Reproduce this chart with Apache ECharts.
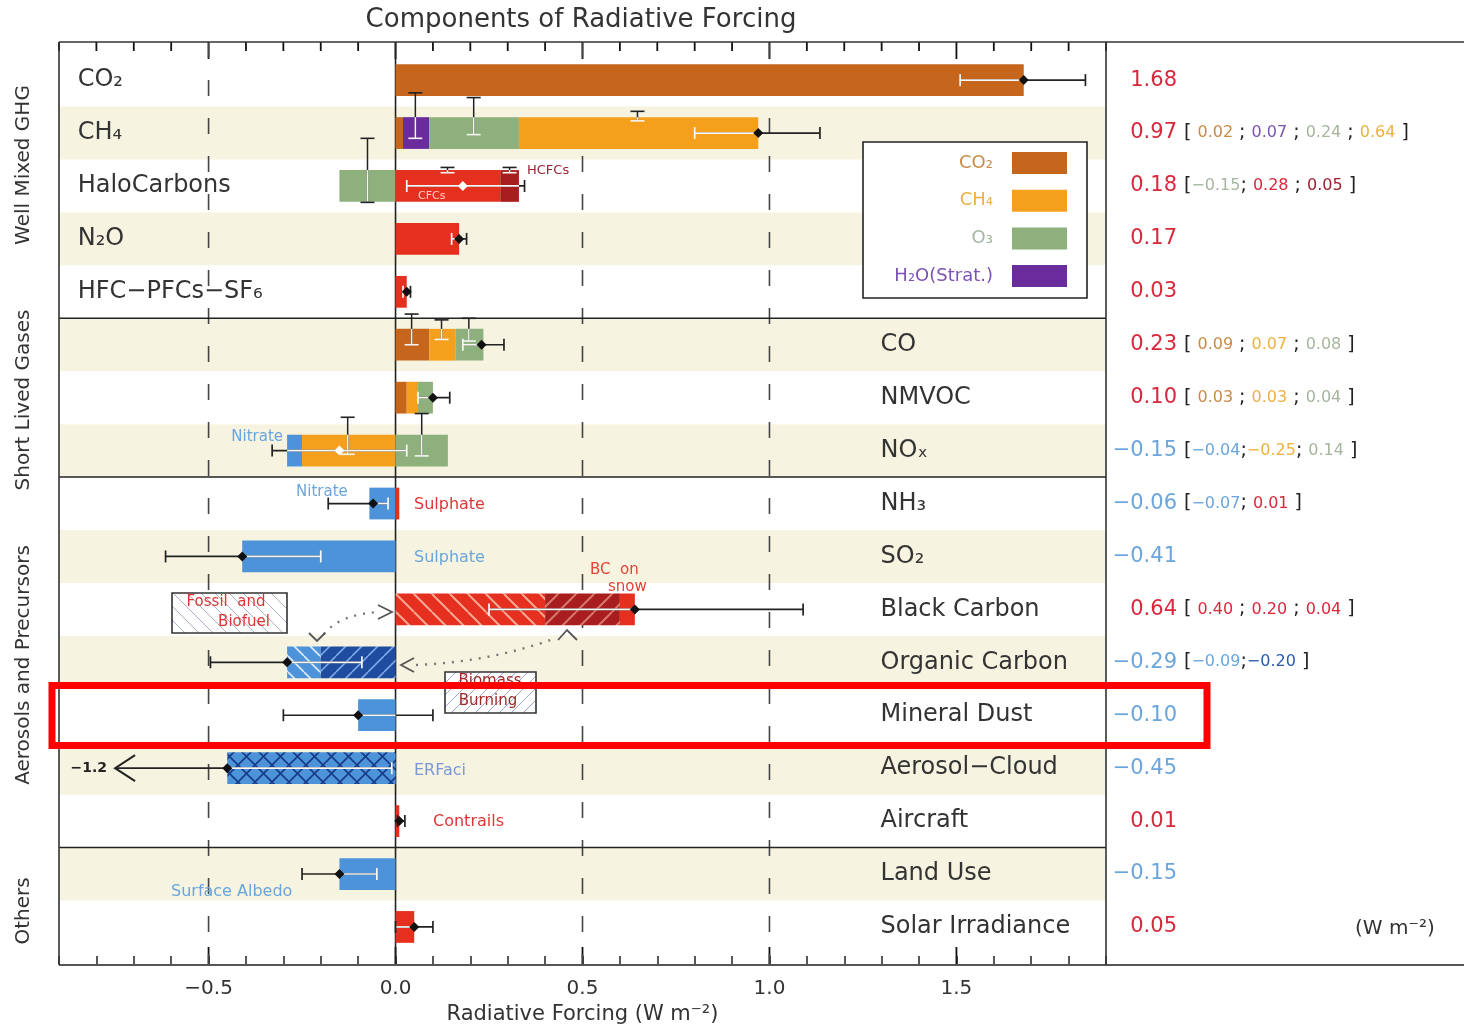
<!DOCTYPE html>
<html>
<head>
<meta charset="utf-8">
<script src="https://cdn.jsdelivr.net/npm/echarts@6/dist/echarts.min.js"></script>
<style>
html, body { margin: 0; padding: 0; background: #fff; }
#chart { width: 1464px; height: 1030px; }
</style>
</head>
<body>
<div id="chart"></div>
<script>
// ---- data ----
const rowNames = ['CO₂', 'CH₄', 'HaloCarbons', 'N₂O', 'HFC−PFCs−SF₆', 'CO', 'NMVOC', 'NOₓ', 'NH₃', 'SO₂',
  'Black Carbon', 'Organic Carbon', 'Mineral Dust', 'Aerosol−Cloud', 'Aircraft', 'Land Use', 'Solar Irradiance'];
const sectionNames = ['Well Mixed GHG', 'Short Lived Gases', 'Aerosols and Precursors', 'Others'];

// net forcing (diamonds) and uncertainty range
const netValues = [1.68, 0.97, 0.18, 0.17, 0.03, 0.23, 0.10, -0.15, -0.06, -0.41, 0.64, -0.29, -0.10, -0.45, 0.01, -0.15, 0.05];
const errLow  = [1.51, 0.80, 0.03, 0.15, 0.02, 0.18, 0.06, -0.33, -0.18, -0.615, 0.25, -0.495, -0.30, -1.2, 0.005, -0.25, 0.0];
const errHigh = [1.845, 1.135, 0.345, 0.19, 0.04, 0.29, 0.145, 0.03, -0.02, -0.20, 1.09, -0.09, 0.10, -0.01, 0.025, -0.05, 0.10];

// bar pieces: [row, from, to, kind]
const segments = [
  [0, 0, 1.68, 'co2'],
  [1, 0, 0.02, 'co2'], [1, 0.02, 0.09, 'h2o'], [1, 0.09, 0.33, 'o3'], [1, 0.33, 0.97, 'ch4'],
  [2, -0.15, 0, 'o3'], [2, 0, 0.28, 'red'], [2, 0.28, 0.33, 'darkred'],
  [3, 0, 0.17, 'red'],
  [4, 0, 0.03, 'red'],
  [5, 0, 0.09, 'co2'], [5, 0.09, 0.16, 'ch4'], [5, 0.16, 0.235, 'o3'],
  [6, 0, 0.03, 'co2'], [6, 0.03, 0.06, 'ch4'], [6, 0.06, 0.10, 'o3'],
  [7, -0.29, -0.25, 'blue'], [7, -0.25, 0, 'ch4'], [7, 0, 0.14, 'o3'],
  [8, -0.07, 0, 'blue'], [8, 0, 0.01, 'red'],
  [9, -0.41, 0, 'blue'],
  [10, 0, 0.40, 'redFossil'], [10, 0.40, 0.60, 'redBiomass'], [10, 0.60, 0.64, 'red'],
  [11, -0.29, -0.20, 'blueFossil'], [11, -0.20, 0, 'blueBiomass'],
  [12, -0.10, 0, 'blue'],
  [13, -0.45, 0, 'blueCloud'],
  [14, 0, 0.01, 'red'],
  [15, -0.15, 0, 'blue'],
  [16, 0, 0.05, 'red']
];

// component uncertainty marks: [row, x, top offset, bottom offset] (offsets in rows)
const compBars = [
  [1, 0.053, -0.76, 0.10], [1, 0.209, -0.67, 0.03], [1, 0.647, -0.41, -0.23],
  [2, -0.075, -0.90, 0.31], [2, 0.139, -0.35, -0.25], [2, 0.305, -0.35, -0.25],
  [5, 0.043, -0.58, 0.0], [5, 0.123, -0.47, -0.10], [5, 0.196, -0.50, -0.07],
  [7, 0.07, -0.70, 0.10], [7, -0.128, -0.63, 0.07]
];

// bracketed component values in the right column
const partValues = [[], [0.02, 0.07, 0.24, 0.64], [-0.15, 0.28, 0.05], [], [], [0.09, 0.07, 0.08], [0.03, 0.03, 0.04],
  [-0.04, -0.25, 0.14], [-0.07, 0.01], [], [0.40, 0.20, 0.04], [-0.09, -0.20], [], [], [], [], []];
const partKinds = [[], ['co2', 'h2o', 'o3', 'ch4'], ['o3', 'red', 'darkred'], [], [], ['co2', 'ch4', 'o3'], ['co2', 'ch4', 'o3'],
  ['blue', 'ch4', 'o3'], ['blue', 'red'], [], ['red', 'red', 'red'], ['blue', 'darkblue'], [], [], [], [], []];

const bandRows = [1, 3, 5, 7, 9, 11, 13, 15];
const sectionBreaks = [4.5, 7.5, 14.5];
const dashedLines = [-0.5, 0.5, 1.0];
const majorTicks = [-0.5, 0, 0.5, 1.0, 1.5];
const legendNames = ['CO₂', 'CH₄', 'O₃', 'H₂O(Strat.)'];
const legendKinds = ['co2', 'ch4', 'o3', 'h2o'];

// ---- look ----
const FONT = '"DejaVu Sans", sans-serif';
const DARK = '#222';
const BEIGE = '#f6f4e0';
const X0 = -0.9, X1 = 1.9, Y0 = -0.72, Y1 = 16.7;
const GL = 59, GT = 42, GW = 1047, GH = 923;
const BAR_HALF = 0.3, CAP = 6, ARROW_X = -0.75;
const LABEL_LEFT = -0.85, LABEL_RIGHT = 1.297;

// every 0.1 across the axis
const tickValues = [];
for (let k = 0; k <= 28; k++) tickValues.push(Math.round((X0 + k / 10) * 10) / 10);

const COLORS = { co2: '#c6651c', ch4: '#f5a01c', o3: '#8db07c', h2o: '#6a2c9c', red: '#e6301f',
  darkred: '#a81e1e', blue: '#4d93da', darkblue: '#1f4c9e' };
const TEXT_COLORS = { co2: '#c98a45', ch4: '#eeb040', o3: '#a5b59e', h2o: '#7c52b4', red: '#d8283c',
  darkred: '#9c1f30', blue: '#6aa5dd', darkblue: '#2a5aa8' };
const POS = '#d8283c', NEG = '#6aa5dd';

function hatch(bg, line, dir, step, width) {
  const c = document.createElement('canvas');
  c.width = c.height = step;
  const g = c.getContext('2d');
  g.fillStyle = bg;
  g.fillRect(0, 0, step, step);
  g.strokeStyle = line;
  g.lineWidth = width;
  g.beginPath();
  for (let k = -1; k <= 1; k++) {
    if (dir === '\\' || dir === 'x') { g.moveTo(k * step, 0); g.lineTo(k * step + step, step); }
    if (dir === '/' || dir === 'x') { g.moveTo(k * step, step); g.lineTo(k * step + step, 0); }
  }
  g.stroke();
  return { image: c, repeat: 'repeat' };
}

const fills = Object.assign({}, COLORS, {
  redFossil: hatch(COLORS.red, '#f6a894', '\\', 18, 2),
  redBiomass: hatch(COLORS.darkred, '#d8786c', '/', 18, 2),
  blueFossil: hatch(COLORS.blue, '#dcebfa', '\\', 16, 1.6),
  blueBiomass: hatch(COLORS.darkblue, '#7aa5e6', '/', 16, 1.6),
  blueCloud: hatch(COLORS.blue, '#163a85', 'x', 17, 1.6)
});

const barExtent = rowNames.map((_, i) => {
  const s = segments.filter(d => d[0] === i);
  return [Math.min(0, ...s.map(d => d[1])), Math.max(0, ...s.map(d => d[2]))];
});

const fmt2 = v => (v < 0 ? '−' : '') + Math.abs(v).toFixed(2);
const fmt1 = v => (v < -1e-9 ? '−' : '') + Math.abs(v).toFixed(1);

// ---- render helpers ----
function bandItem(params, api) {
  const r = bandRows[params.dataIndex];
  const a = api.coord([X0, r - 0.5]), b = api.coord([X1, r + 0.5]);
  return { type: 'rect', shape: { x: a[0], y: a[1], width: b[0] - a[0], height: b[1] - a[1] }, style: { fill: BEIGE } };
}

// one vertical "column" per 0.1: top tick, bottom major tick, dashed or zero line
function columnItem(params, api) {
  const v = tickValues[params.dataIndex];
  const a = api.coord([v, Y0]), b = api.coord([v, Y1]);
  const major = majorTicks.some(m => Math.abs(m - v) < 1e-6);
  const kids = [{ type: 'line', shape: { x1: a[0], y1: a[1], x2: a[0], y2: a[1] + (major ? 17 : 9) },
    style: { stroke: '#111', lineWidth: 1.8 } }];
  if (major) kids.push({ type: 'line', shape: { x1: b[0], y1: b[1], x2: b[0], y2: b[1] - 17 }, style: { stroke: '#111', lineWidth: 1.8 } });
  if (dashedLines.some(d => Math.abs(d - v) < 1e-6)) {
    kids.push({ type: 'line', shape: { x1: a[0], y1: a[1], x2: b[0], y2: b[1] },
      style: { stroke: '#444', lineWidth: 1.6, lineDash: [16, 22] } });
  }
  if (Math.abs(v) < 1e-6) {
    kids.push({ type: 'line', shape: { x1: a[0], y1: a[1], x2: b[0], y2: b[1] }, style: { stroke: DARK, lineWidth: 1.6 } });
  }
  return { type: 'group', children: kids };
}

function hLine(y, api) {
  const a = api.coord([X0, y]), b = api.coord([X1, y]);
  return { type: 'line', shape: { x1: a[0], y1: a[1], x2: b[0], y2: b[1] }, style: { stroke: DARK, lineWidth: 1.6 } };
}

function barItem(params, api) {
  const s = segments[params.dataIndex];
  const a = api.coord([s[1], s[0] - BAR_HALF]), b = api.coord([s[2], s[0] + BAR_HALF]);
  return { type: 'rect', shape: { x: Math.min(a[0], b[0]), y: a[1], width: Math.abs(b[0] - a[0]), height: b[1] - a[1] },
    style: { fill: fills[s[3]] } };
}

function compItem(params, api) {
  const c = compBars[params.dataIndex];
  const row = c[0];
  const P = o => api.coord([c[1], row + o]);
  const x = P(0)[0];
  const yTop = P(c[2])[1], yBot = P(c[3])[1];
  const bTop = P(-BAR_HALF)[1], bBot = P(BAR_HALF)[1];
  const kids = [{ type: 'line', shape: { x1: x, y1: yTop, x2: x, y2: yBot }, style: { stroke: DARK, lineWidth: 1.5 } }];
  const w0 = Math.max(yTop, bTop), w1 = Math.min(yBot, bBot);
  if (w1 > w0) kids.push({ type: 'line', shape: { x1: x, y1: w0, x2: x, y2: w1 }, style: { stroke: '#f4f4f4', lineWidth: 1.5 } });
  [[c[2], yTop], [c[3], yBot]].forEach(([o, y]) => {
    kids.push({ type: 'line', shape: { x1: x - 7, y1: y, x2: x + 7, y2: y },
      style: { stroke: Math.abs(o) < BAR_HALF ? '#f4f4f4' : DARK, lineWidth: 1.6 } });
  });
  return { type: 'group', children: kids };
}

function errorItem(params, api) {
  const i = params.dataIndex;
  const v = netValues[i], lo = errLow[i], hi = errHigh[i];
  const [b0, b1] = barExtent[i];
  const y = api.coord([0, i])[1];
  const X = x => api.coord([x, i])[0];
  const clipped = lo < ARROW_X;
  const loDraw = clipped ? ARROW_X : lo;
  const inside = x => x > b0 + 0.005 && x < b1 - 0.005;
  const kids = [];
  const line = (x1, x2, color) => kids.push({ type: 'line', shape: { x1: X(x1), y1: y, x2: X(x2), y2: y },
    style: { stroke: color, lineWidth: 1.7 } });
  line(loDraw, hi, DARK);
  const w0 = Math.max(loDraw, b0), w1 = Math.min(hi, b1);
  if (w1 > w0) line(w0, w1, '#f8f8f8');
  const cap = x => kids.push({ type: 'line', shape: { x1: X(x), y1: y - CAP, x2: X(x), y2: y + CAP },
    style: { stroke: inside(x) ? '#f8f8f8' : DARK, lineWidth: 1.7 } });
  if (clipped) {
    const ax = X(ARROW_X);
    kids.push({ type: 'polyline', shape: { points: [[ax + 20, y - 13], [ax, y], [ax + 20, y + 13]] },
      style: { stroke: DARK, lineWidth: 2, fill: null } });
    kids.push({ type: 'text', x: ax - 8, y: y, style: { text: fmt1(lo), fill: DARK, fontSize: 14, fontWeight: 'bold',
      fontFamily: FONT, align: 'right', verticalAlign: 'middle' } });
  } else {
    cap(lo);
  }
  cap(hi);
  const nearEdge = Math.abs(v - b0) < 0.015 || Math.abs(v - b1) < 0.015;
  const xv = X(v);
  kids.push({ type: 'polygon', shape: { points: [[xv, y - 5], [xv + 5, y], [xv, y + 5], [xv - 5, y]] },
    style: { fill: (!nearEdge && inside(v)) ? '#fff' : '#111' } });
  return { type: 'group', children: kids };
}

function labelItem(params, api) {
  const i = params.dataIndex;
  const p = api.coord([i < 5 ? LABEL_LEFT : LABEL_RIGHT, i]);
  return { type: 'text', x: p[0], y: p[1], style: { text: rowNames[i], fill: '#333', fontSize: 24,
    fontFamily: FONT, align: 'left', verticalAlign: 'middle' } };
}

function valueItem(params, api) {
  const i = params.dataIndex;
  const v = netValues[i];
  const p = api.coord([X1, i]);
  const kids = [{ type: 'text', x: p[0] + 71, y: p[1], style: { text: fmt2(v), fill: v < 0 ? NEG : POS,
    fontSize: 21, fontFamily: FONT, align: 'right', verticalAlign: 'middle' } }];
  const parts = partValues[i];
  if (parts.length) {
    let s = '{k|[}' + (parts[0] >= 0 ? '{k| }' : '');
    parts.forEach((pv, j) => {
      if (j) s += '{k|' + (parts[j - 1] >= 0 ? ' ' : '') + ';' + (pv >= 0 ? ' ' : '') + '}';
      s += '{' + partKinds[i][j] + '|' + fmt2(pv) + '}';
    });
    s += '{k| ]}';
    const rich = { k: { fill: DARK, fontSize: 19, fontFamily: FONT } };
    Object.keys(TEXT_COLORS).forEach(key => { rich[key] = { fill: TEXT_COLORS[key], fontSize: 16, fontFamily: FONT }; });
    kids.push({ type: 'text', x: p[0] + 78, y: p[1], style: { text: s, rich: rich, align: 'left', verticalAlign: 'middle' } });
  }
  return { type: 'group', children: kids };
}

const rowData = rowNames.map((_, i) => [0, i]);
const custom = (name, data, renderItem, z) => ({
  type: 'custom', name: name, data: data, renderItem: renderItem, z: z, silent: true, clip: false
});

// ---- annotations (pixel placed) ----
const txt = (x, y, text, fill, size, align) => ({ type: 'text', x: x, y: y, z: 12,
  style: { text: text, fill: fill, fontSize: size, fontFamily: FONT, align: align || 'left', verticalAlign: 'middle' } });
const seg = (pts) => ({ type: 'polyline', z: 12, shape: { points: pts },
  style: { stroke: '#555', lineWidth: 1.8, fill: null } });

const graphics = [
  txt(581, 20, 'Components of Radiative Forcing', '#333', 26, 'center'),
  // frame
  { type: 'line', z: 20, shape: { x1: GL, y1: GT, x2: 1464, y2: GT }, style: { stroke: '#333', lineWidth: 1.6 } },
  { type: 'line', z: 20, shape: { x1: GL, y1: GT + GH, x2: 1464, y2: GT + GH }, style: { stroke: '#555', lineWidth: 1.8 } },
  { type: 'line', z: 20, shape: { x1: GL, y1: GT, x2: GL, y2: GT + GH }, style: { stroke: '#333', lineWidth: 1.6 } },
  { type: 'line', z: 20, shape: { x1: GL + GW, y1: GT, x2: GL + GW, y2: GT + GH }, style: { stroke: '#333', lineWidth: 1.6 } },
  // legend box
  { type: 'rect', z: 10, shape: { x: 863, y: 142, width: 224, height: 156 }, style: { fill: '#fff', stroke: DARK, lineWidth: 1.6 } },
  // small labels
  txt(418, 196, 'CFCs', '#ffd0c8', 11),
  txt(527, 171, 'HCFCs', '#a02035', 13),
  txt(283, 437, 'Nitrate', NEG, 15, 'right'),
  txt(296, 492, 'Nitrate', NEG, 15),
  txt(414, 505, 'Sulphate', '#e03535', 16),
  txt(414, 558, 'Sulphate', NEG, 16),
  txt(590, 570, 'BC  on', '#e04535', 15),
  txt(608, 587, 'snow', '#e04535', 15),
  txt(414, 771, 'ERFaci', '#7a98d8', 16),
  txt(433, 822, 'Contrails', '#e03535', 16),
  txt(171, 892, 'Surface Albedo', NEG, 16),
  txt(1355, 929, '(W m⁻²)', '#333', 20),
  // fossil / biomass boxes
  { type: 'rect', z: 11, shape: { x: 172, y: 593, width: 115, height: 40 },
    style: { fill: hatch('#ffffff', '#aab0c8', '\\', 14, 1), stroke: '#333', lineWidth: 1.6 } },
  txt(226, 602, 'Fossil  and', '#e03535', 15, 'center'),
  txt(244, 622, 'Biofuel', '#e03535', 15, 'center'),
  { type: 'rect', z: 11, shape: { x: 445, y: 672, width: 91, height: 41 },
    style: { fill: hatch('#ffffff', '#9aa6d6', '/', 12, 1), stroke: '#333', lineWidth: 1.6 } },
  txt(490, 681, 'Biomass', '#a02828', 15, 'center'),
  txt(488, 701, 'Burning', '#a02828', 15, 'center'),
  // dotted connectors
  { type: 'bezierCurve', z: 12, shape: { x1: 324, y1: 634, cpx1: 340, cpy1: 614, x2: 380, y2: 612 },
    style: { stroke: '#777', lineWidth: 2.4, lineDash: [2, 7], fill: null } },
  seg([[378, 605], [392, 612], [378, 619]]),
  seg([[309, 633], [317, 641], [325, 633]]),
  { type: 'bezierCurve', z: 12, shape: { x1: 416, y1: 665, cpx1: 490, cpy1: 662, x2: 556, y2: 638 },
    style: { stroke: '#777', lineWidth: 2.4, lineDash: [2, 7], fill: null } },
  seg([[414, 658], [401, 665], [414, 672]]),
  seg([[558, 640], [567, 630], [577, 640]]),
  // highlight
  { type: 'rect', z: 40, shape: { x: 52, y: 685.5, width: 1155, height: 60 }, style: { fill: null, stroke: '#ff0000', lineWidth: 7 } }
];

[165, 400, 665, 911].forEach((cy, j) => {
  graphics.push({ type: 'text', x: 24, y: cy, rotation: Math.PI / 2, z: 12,
    style: { text: sectionNames[j], fill: '#333', fontSize: 20, fontFamily: FONT, align: 'center', verticalAlign: 'middle' } });
});
legendNames.forEach((name, j) => {
  const cy = 163 + j * 37.7;
  graphics.push(txt(993, cy, name, TEXT_COLORS[legendKinds[j]], 18, 'right'));
  graphics.push({ type: 'rect', z: 12, shape: { x: 1012, y: cy - 11, width: 55, height: 22 }, style: { fill: COLORS[legendKinds[j]] } });
});

const chart = echarts.init(document.getElementById('chart'));
chart.setOption({
  animation: false,
  backgroundColor: '#fff',
  grid: { left: GL, top: GT, width: GW, height: GH, show: false },
  xAxis: {
    type: 'value', position: 'bottom', min: X0, max: X1, interval: 0.1,
    axisLine: { show: false, onZero: false }, splitLine: { show: false },
    axisTick: { inside: true, length: 8, lineStyle: { color: DARK, width: 1.5 } },
    axisLabel: { margin: 15, fontSize: 20, fontFamily: FONT, color: '#333',
      formatter: v => { const t = Math.round(v * 10); return t % 5 === 0 ? fmt1(t / 10) : ''; } },
    name: 'Radiative Forcing (W m⁻²)', nameLocation: 'middle', nameGap: 40,
    nameTextStyle: { fontSize: 21, fontFamily: FONT, color: '#333' }
  },
  yAxis: { type: 'value', inverse: true, min: Y0, max: Y1, show: false },
  series: [
    custom('bands', bandRows.map(r => [0, r]), bandItem, 1),
    custom('columns', tickValues.map(v => [v, 0]), columnItem, 3),
    custom('sections', sectionBreaks.map(v => [0, v]), (p, api) => hLine(sectionBreaks[p.dataIndex], api), 3),
    custom('bars', segments.map(s => [s[1], s[0]]), barItem, 4),
    custom('components', compBars.map(c => [c[1], c[0]]), compItem, 5),
    custom('net', rowData, errorItem, 6),
    custom('labels', rowData, labelItem, 6),
    custom('values', rowData, valueItem, 6)
  ],
  graphic: { elements: graphics }
});
</script>
</body>
</html>
